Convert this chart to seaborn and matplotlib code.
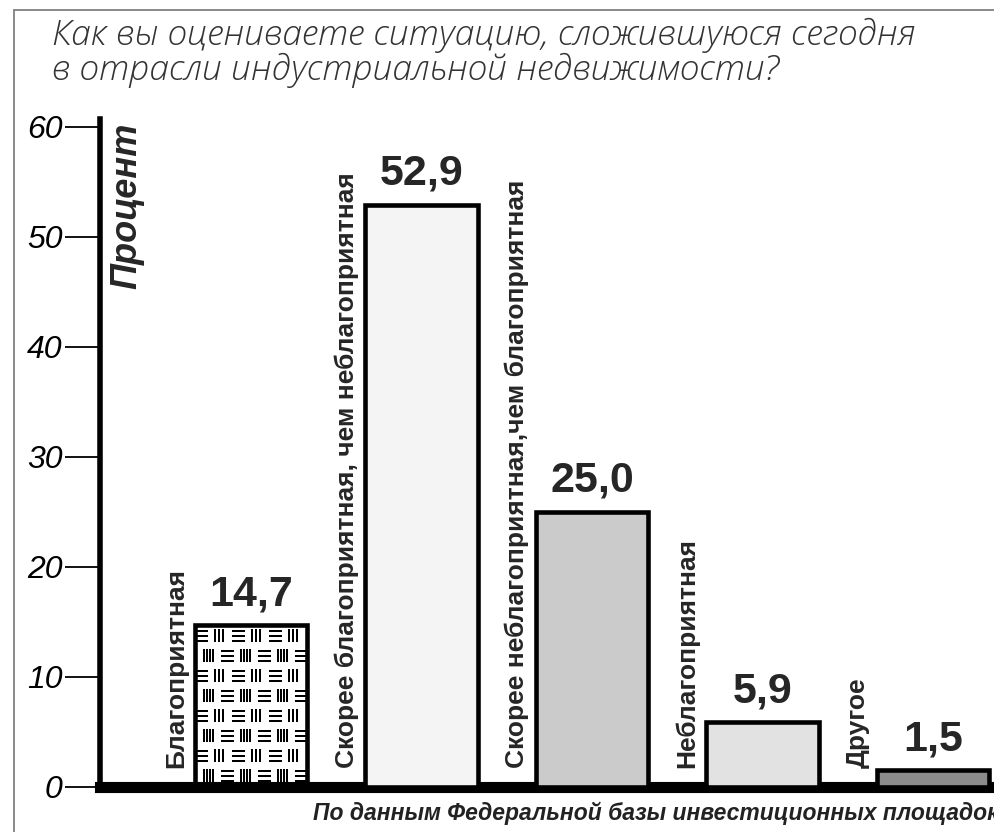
import numpy as np
import pandas as pd
import matplotlib
matplotlib.use("Agg")
import matplotlib.pyplot as plt
from matplotlib import font_manager
from matplotlib.lines import Line2D
import seaborn as sns

# ── Data ──────────────────────────────────────────────────────────────────────
categories = [
    "Благоприятная",
    "Скорее благоприятная, чем неблагоприятная",
    "Скорее неблагоприятная,чем благоприятная",
    "Неблагоприятная",
    "Другое",
]
values = [14.7, 52.9, 25.0, 5.9, 1.5]
value_labels = ["14,7", "52,9", "25,0", "5,9", "1,5"]
bar_colors = ["#ffffff", "#f4f4f4", "#cbcbcb", "#e2e2e2", "#8c8c8c"]
yticks = [0, 10, 20, 30, 40, 50, 60]

TITLE = "Как вы оцениваете ситуацию, сложившуюся сегодня\nв отрасли индустриальной недвижимости?"
YLABEL = "Процент"
SOURCE = "По данным Федеральной базы инвестиционных площадок"

# ── Style ─────────────────────────────────────────────────────────────────────
sns.set_style("white")
plt.rcParams["font.family"] = ["Liberation Sans", "DejaVu Sans"]

installed = {f.name for f in font_manager.fontManager.ttflist}
title_family = ["Open Sans", "DejaVu Sans"] if "Open Sans" in installed else ["DejaVu Sans"]

DPI = 100
fig = plt.figure(figsize=(9.94, 8.32), dpi=DPI)
ax = fig.add_axes([100 / 994, 45 / 832, 894 / 994, 668 / 832])

df = pd.DataFrame({"cat": categories, "val": values})
sns.barplot(data=df, x="cat", y="val", hue="cat", palette=bar_colors,
            legend=False, width=0.66, saturation=1, ax=ax)

for bar in ax.patches:
    bar.set_edgecolor("black")
    bar.set_linewidth(3.3)
    bar.set_zorder(3)

ax.set_xlim(-0.886, 4.358)
ax.set_ylim(0, 60.7)

# ── Basket-weave pattern for the first bar ───────────────────────────────────
bar0 = ax.patches[0]
bar0.set_facecolor("none")
x0, w, h = bar0.get_x(), bar0.get_width(), bar0.get_height()
p0 = ax.transData.transform((x0, 0))
p1 = ax.transData.transform((x0 + w, h))
W = int(round(abs(p1[0] - p0[0])))
H = int(round(abs(p1[1] - p0[1])))
img = np.ones((H, W))
period, row_h = 37, 20
for r, top in enumerate(range(4, H, row_h)):
    shift = 0 if r % 2 == 0 else -11
    nlines = 3 if r % 2 == 0 else 4
    for c in range(shift - period, W + period, period):
        # horizontal block
        for k in range(3):
            yy = top + 1 + k * 5
            img[max(yy, 0):max(yy + 2, 0), max(c, 0):max(c + 13, 0)] = 0
        # vertical block
        cv = c + 19
        for k in range(nlines):
            xx = cv + k * 3 if nlines == 4 else cv + k * 4
            img[max(top, 0):max(top + 13, 0), max(xx, 0):max(xx + 2, 0)] = 0
im = ax.imshow(img, cmap="gray", vmin=0, vmax=1, extent=(x0, x0 + w, 0, h),
               aspect="auto", interpolation="nearest", zorder=2)
im.set_clip_path(bar0)
ax.set_xlim(-0.886, 4.358)
ax.set_ylim(0, 60.7)

# ── Labels ────────────────────────────────────────────────────────────────────
for i, (v, lab, cat) in enumerate(zip(values, value_labels, categories)):
    ax.annotate(lab, xy=(i, v), xytext=(0, 20), textcoords="offset pixels",
                ha="center", va="baseline", fontsize=31, fontweight="bold")
    ax.text(i - 0.44, 1.7, cat, rotation=90, ha="center", va="bottom",
            fontsize=19, fontweight="bold")

ax.text(0.03, 0.995, YLABEL, transform=ax.transAxes, rotation=90,
        ha="center", va="top", fontsize=26, fontweight="bold", fontstyle="italic")

# ── Axes styling ──────────────────────────────────────────────────────────────
for side in ["top", "right"]:
    ax.spines[side].set_visible(False)
ax.spines["left"].set_linewidth(4)
ax.spines["bottom"].set_linewidth(8)
ax.spines["left"].set_color("black")
ax.spines["bottom"].set_color("black")
ax.set_xticks([])
ax.set_xlabel("")
ax.set_ylabel("")
ax.set_yticks(yticks)
ax.set_yticklabels([str(t) for t in yticks])
ax.tick_params(axis="y", direction="out", length=25, width=1.3, pad=2,
               labelsize=23, left=True, color="black", labelcolor="black")
for t in ax.get_yticklabels():
    t.set_fontstyle("italic")
ax.grid(False)
ax.set_facecolor("none")

# ── Title, source, frame ──────────────────────────────────────────────────────
fig.text(52 / 994, 1 - 18 / 832, TITLE, ha="left", va="top", fontsize=25.5,
         fontstyle="italic", fontweight="light", color="#333333",
         family=title_family, linespacing=1.0)
fig.text(313 / 994, 1 - 813 / 832, SOURCE, ha="left", va="center",
         fontsize=16.5, fontweight="bold", fontstyle="italic", color="#222222")

fig.add_artist(Line2D([14 / 994, 1], [1 - 10 / 832, 1 - 10 / 832],
                      transform=fig.transFigure, color="#808080", lw=1.3))
fig.add_artist(Line2D([14 / 994, 14 / 994], [0, 1 - 10 / 832],
                      transform=fig.transFigure, color="#808080", lw=1.3))

fig.savefig("out.png", dpi=DPI)
